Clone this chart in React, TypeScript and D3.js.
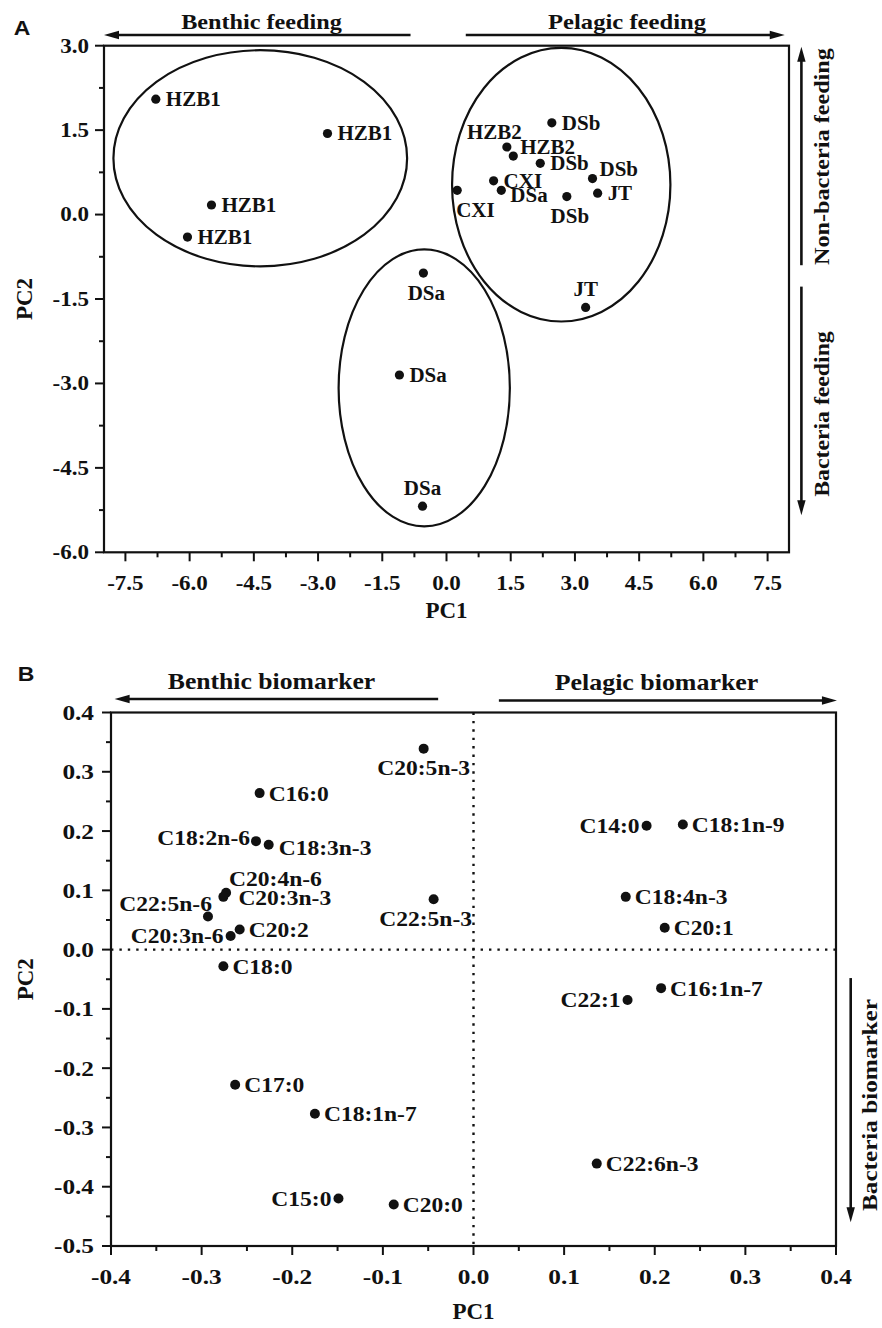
import React from "react";
import * as d3 from "d3";

// ---------- Panel A data (sample scores) ----------
const samplesA = ["HZB1","HZB1","HZB1","HZB1","DSb","HZB2","HZB2","DSb","DSb","CXI","DSa","CXI","DSb","JT","JT","DSa","DSa","DSa"];
const pc1A = [-6.79,-2.78,-5.49,-6.05,2.46,1.41,1.56,2.19,3.41,1.10,1.28,0.25,2.81,3.53,3.25,-0.54,-1.10,-0.56];
const pc2A = [2.05,1.44,0.17,-0.40,1.63,1.20,1.04,0.91,0.64,0.60,0.43,0.43,0.32,0.38,-1.65,-1.04,-2.85,-5.18];
const labelSideA = ["r","r","r","r","r","al","ur","r","ur","r","dr","bs","b","r","a","b","r","a"];

// cluster ellipses (data units)
const ellipseCx = [-4.35, 2.68, -0.52];
const ellipseCy = [1.0, 0.53, -3.08];
const ellipseRx = [3.43, 2.55, 2.0];
const ellipseRy = [1.92, 2.43, 2.46];

const xTicksA = [-7.5,-6.0,-4.5,-3.0,-1.5,0.0,1.5,3.0,4.5,6.0,7.5];
const xTickLabelsA = ["-7.5","-6.0","-4.5","-3.0","-1.5","0.0","1.5","3.0","4.5","6.0","7.5"];
const yTicksA = [3.0,1.5,0.0,-1.5,-3.0,-4.5,-6.0];
const yTickLabelsA = ["3.0","1.5","0.0","-1.5","-3.0","-4.5","-6.0"];

// ---------- Panel B data (fatty acid loadings) ----------
const acids = ["C20:5n-3","C16:0","C18:2n-6","C18:3n-3","C20:4n-6","C20:3n-3","C22:5n-6","C20:3n-6","C20:2","C22:5n-3","C18:0","C14:0","C18:1n-9","C18:4n-3","C20:1","C16:1n-7","C22:1","C17:0","C18:1n-7","C22:6n-3","C15:0","C20:0"];
const pc1B = [-0.055,-0.236,-0.240,-0.226,-0.273,-0.276,-0.293,-0.268,-0.258,-0.044,-0.276,0.191,0.231,0.168,0.211,0.207,0.170,-0.263,-0.175,0.136,-0.149,-0.088];
const pc2B = [0.339,0.264,0.183,0.177,0.096,0.089,0.056,0.023,0.034,0.085,-0.028,0.209,0.211,0.089,0.037,-0.065,-0.085,-0.228,-0.277,-0.361,-0.420,-0.430];
const labelSideB = ["b","r","lu","rd","as","r2","ale","l","r","bl","r","l","r","r","r","r","l","r","r","r","l","r"];

const xTicksB = [-0.4,-0.3,-0.2,-0.1,0.0,0.1,0.2,0.3,0.4];
const xTickLabelsB = ["-0.4","-0.3","-0.2","-0.1","0.0","0.1","0.2","0.3","0.4"];
const yTicksB = [0.4,0.3,0.2,0.1,0.0,-0.1,-0.2,-0.3,-0.4,-0.5];
const yTickLabelsB = ["0.4","0.3","0.2","0.1","0.0","-0.1","-0.2","-0.3","-0.4","-0.5"];

const SERIF = "'Liberation Serif','Times New Roman',Times,serif";
const SANS = "'Liberation Sans',Arial,Helvetica,sans-serif";
const INK = "#111";

const offA: Record<string, {a: string; dx: number; dy: number}> = {
  r: {a: "start", dx: 10, dy: 0},
  al: {a: "end", dx: 15, dy: -15},
  ur: {a: "start", dx: 7, dy: -9},
  dr: {a: "start", dx: 9, dy: 5},
  bs: {a: "start", dx: -1, dy: 20},
  b: {a: "middle", dx: 3, dy: 20},
  a: {a: "middle", dx: 0, dy: -18},
};
const offB: Record<string, {a: string; dx: number; dy: number}> = {
  r: {a: "start", dx: 9, dy: 0},
  r2: {a: "start", dx: 15, dy: 1},
  rd: {a: "start", dx: 10, dy: 3},
  l: {a: "end", dx: -7, dy: 0},
  lu: {a: "end", dx: -6, dy: -4},
  b: {a: "middle", dx: 0, dy: 19},
  bl: {a: "middle", dx: -8, dy: 19},
  as: {a: "start", dx: 3, dy: -14},
  ale: {a: "end", dx: 4, dy: -13},
};

type TP = {x: number; y: number; anchor?: string; size: number; sx?: number; rot?: number; family?: string; children: React.ReactNode};
function T({x, y, anchor = "start", size, sx = 1.1, rot = 0, family = SERIF, children}: TP) {
  return (
    <text
      transform={`translate(${x},${y}) rotate(${rot}) scale(${sx},1)`}
      textAnchor={anchor}
      fontSize={size}
      fontFamily={family}
      fontWeight="bold"
      dy="0.34em"
      fill={INK}
    >
      {children}
    </text>
  );
}

function Arrow({x1, y1, x2, y2}: {x1: number; y1: number; x2: number; y2: number}) {
  const ang = Math.atan2(y2 - y1, x2 - x1);
  const L = 15, W = 4.2;
  const bx = x2 - L * Math.cos(ang), by = y2 - L * Math.sin(ang);
  const px = -Math.sin(ang) * W, py = Math.cos(ang) * W;
  return (
    <g>
      <line x1={x1} y1={y1} x2={bx + L * 0.3 * Math.cos(ang)} y2={by + L * 0.3 * Math.sin(ang)} stroke={INK} strokeWidth={2.6} />
      <polygon points={`${x2},${y2} ${bx + px},${by + py} ${bx - px},${by - py}`} fill={INK} />
    </g>
  );
}

function mids(t: number[]) {
  const m: number[] = [];
  for (let i = 0; i < t.length - 1; i++) m.push((t[i] + t[i + 1]) / 2);
  return m;
}

export default function App() {
  // Panel A scales
  const xA = d3.scaleLinear().domain([-8, 8]).range([104, 789]);
  const yA = d3.scaleLinear().domain([-6, 3]).range([552.3, 45.7]);
  // Panel B scales
  const xB = d3.scaleLinear().domain([-0.4, 0.4]).range([111, 836]);
  const yB = d3.scaleLinear().domain([-0.5, 0.4]).range([1246, 712.5]);

  const [aL, aR] = xA.range();
  const [aB, aT] = yA.range();
  const [bL, bR] = xB.range();
  const [bB, bT] = yB.range();

  const MAJ = 9, MIN = 5;

  return (
    <svg width={882} height={1328} style={{position: "absolute", left: 0, top: 0, background: "#fff"}}>
      {/* ================= PANEL A ================= */}
      <T x={22} y={28} size={20} sx={1.15} anchor="middle" family={SANS}>A</T>
      <T x={261.5} y={21.7} size={22} sx={1.1} anchor="middle">Benthic feeding</T>
      <T x={627} y={21.7} size={22} sx={1.12} anchor="middle">Pelagic feeding</T>
      <Arrow x1={xA(-0.84)} y1={35} x2={aL} y2={35} />
      <Arrow x1={xA(0.45)} y1={35} x2={xA(7.9)} y2={35} />

      <rect x={aL} y={aT} width={aR - aL} height={aB - aT} fill="none" stroke={INK} strokeWidth={2.2} />

      {/* y ticks A */}
      {yTicksA.map((v, i) => (
        <g key={"ya" + i}>
          <line x1={aL - MAJ} x2={aL} y1={yA(v)} y2={yA(v)} stroke={INK} strokeWidth={2} />
          <T x={aL - 15} y={yA(v)} size={20} sx={1.15} anchor="end">{yTickLabelsA[i]}</T>
        </g>
      ))}
      {mids(yTicksA).map((v, i) => (
        <line key={"yam" + i} x1={aL - MIN} x2={aL} y1={yA(v)} y2={yA(v)} stroke={INK} strokeWidth={2} />
      ))}
      {/* x ticks A */}
      {xTicksA.map((v, i) => (
        <g key={"xa" + i}>
          <line x1={xA(v)} x2={xA(v)} y1={aB} y2={aB + MAJ} stroke={INK} strokeWidth={2} />
          <T x={xA(v)} y={583} size={20} sx={1.15} anchor="middle">{xTickLabelsA[i]}</T>
        </g>
      ))}
      {mids(xTicksA).map((v, i) => (
        <line key={"xam" + i} x1={xA(v)} x2={xA(v)} y1={aB} y2={aB + MIN} stroke={INK} strokeWidth={2} />
      ))}
      <T x={(aL + aR) / 2} y={610} size={23} sx={1.0} anchor="middle">PC1</T>
      <T x={24} y={(aT + aB) / 2} size={23} sx={1.0} anchor="middle" rot={-90}>PC2</T>

      {/* right annotations A */}
      <Arrow x1={aR + 12.4} y1={yA(-0.9)} x2={aR + 12.4} y2={yA(2.98)} />
      <Arrow x1={aR + 12.4} y1={yA(-1.28)} x2={aR + 12.4} y2={yA(-5.34)} />
      <T x={aR + 33} y={156.6} size={22} sx={1.1} anchor="middle" rot={-90}>Non-bacteria feeding</T>
      <T x={aR + 33} y={414} size={22} sx={1.08} anchor="middle" rot={-90}>Bacteria feeding</T>

      {/* ellipses */}
      {ellipseCx.map((c, i) => (
        <ellipse
          key={"el" + i}
          cx={xA(c)}
          cy={yA(ellipseCy[i])}
          rx={xA(c + ellipseRx[i]) - xA(c)}
          ry={yA(ellipseCy[i]) - yA(ellipseCy[i] + ellipseRy[i])}
          fill="none"
          stroke={INK}
          strokeWidth={2.2}
        />
      ))}

      {/* points A */}
      {pc1A.map((v, i) => {
        const o = offA[labelSideA[i]];
        const px = xA(v), py = yA(pc2A[i]);
        return (
          <g key={"pa" + i}>
            <circle cx={px} cy={py} r={4.6} fill={INK} />
            <T x={px + o.dx} y={py + o.dy} size={20} sx={1.05} anchor={o.a}>{samplesA[i]}</T>
          </g>
        );
      })}

      {/* ================= PANEL B ================= */}
      <T x={26} y={674} size={20} sx={1.15} anchor="middle" family={SANS}>B</T>
      <T x={271.5} y={681} size={24} sx={1.07} anchor="middle">Benthic biomarker</T>
      <T x={656.5} y={682} size={24} sx={1.08} anchor="middle">Pelagic biomarker</T>
      <Arrow x1={xB(-0.039)} y1={699} x2={xB(-0.396)} y2={699} />
      <Arrow x1={xB(0.028)} y1={700.5} x2={xB(0.401)} y2={700.5} />

      {/* dotted zero lines */}
      <line x1={xB(0)} x2={xB(0)} y1={bT} y2={bB} stroke={INK} strokeWidth={2.4} strokeDasharray="2.4,6" />
      <line x1={bL} x2={bR} y1={yB(0)} y2={yB(0)} stroke={INK} strokeWidth={2.4} strokeDasharray="2.4,6" />

      <rect x={bL} y={bT} width={bR - bL} height={bB - bT} fill="none" stroke={INK} strokeWidth={2.2} />

      {yTicksB.map((v, i) => (
        <g key={"yb" + i}>
          <line x1={bL - MAJ} x2={bL} y1={yB(v)} y2={yB(v)} stroke={INK} strokeWidth={2} />
          <T x={bL - 17} y={yB(v)} size={22} sx={1.15} anchor="end">{yTickLabelsB[i]}</T>
        </g>
      ))}
      {mids(yTicksB).map((v, i) => (
        <line key={"ybm" + i} x1={bL - MIN} x2={bL} y1={yB(v)} y2={yB(v)} stroke={INK} strokeWidth={2} />
      ))}
      {xTicksB.map((v, i) => (
        <g key={"xb" + i}>
          <line x1={xB(v)} x2={xB(v)} y1={bB} y2={bB + MAJ} stroke={INK} strokeWidth={2} />
          <T x={xB(v)} y={1277} size={22} sx={1.15} anchor="middle">{xTickLabelsB[i]}</T>
        </g>
      ))}
      {mids(xTicksB).map((v, i) => (
        <line key={"xbm" + i} x1={xB(v)} x2={xB(v)} y1={bB} y2={bB + MIN} stroke={INK} strokeWidth={2} />
      ))}
      <T x={(bL + bR) / 2} y={1311} size={23} sx={1.0} anchor="middle">PC1</T>
      <T x={25} y={(bT + bB) / 2} size={23} sx={1.0} anchor="middle" rot={-90}>PC2</T>

      <Arrow x1={bR + 14.7} y1={yB(-0.048)} x2={bR + 14.7} y2={yB(-0.46)} />
      <T x={bR + 33.5} y={1105} size={21} sx={1.2} anchor="middle" rot={-90}>Bacteria biomarker</T>

      {pc1B.map((v, i) => {
        const o = offB[labelSideB[i]];
        const px = xB(v), py = yB(pc2B[i]);
        return (
          <g key={"pb" + i}>
            <circle cx={px} cy={py} r={5} fill={INK} />
            <T x={px + o.dx} y={py + o.dy} size={22} sx={1.07} anchor={o.a}>{acids[i]}</T>
          </g>
        );
      })}
    </svg>
  );
}
